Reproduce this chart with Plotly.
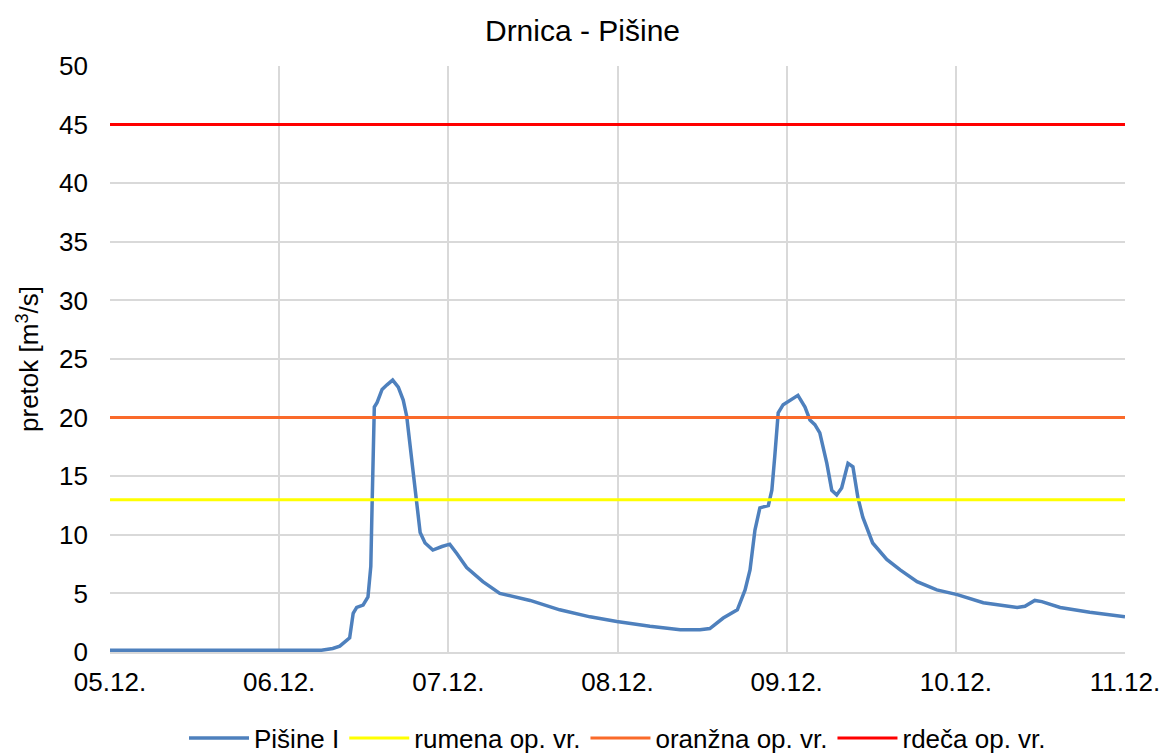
import pandas as pd
import plotly.graph_objects as go

# Hours since 05.12. 00:00 and discharge at station Pišine I [m3/s]
hours = [0, 30, 31.6, 32.6, 34.0, 34.5, 35.0, 35.9, 36.6, 37.0, 37.2, 37.3, 37.5, 37.9,
         38.6, 39.3, 40.1, 40.9, 41.6, 42.1, 42.8, 43.6, 44.0, 44.7, 45.8, 47.1, 48.2,
         49.2, 50.6, 52.9, 55.3, 59.6, 63.8, 68.1, 71.9, 76.6, 80.9, 83.7, 85.1, 87.0,
         89.0, 90.1, 90.8, 91.5, 92.2, 93.4, 93.9, 94.3, 94.8, 95.5, 96.5, 97.6, 98.6,
         99.3, 100.0, 100.7, 101.7, 102.4, 103.1, 103.8, 104.7, 105.4, 106.1, 106.8,
         108.2, 110.2, 112.1, 114.5, 117.3, 120.2, 123.9, 128.7, 129.8, 131.2, 132.2,
         134.8, 139.0, 144.0]
flow = [0.15, 0.15, 0.3, 0.5, 1.2, 3.3, 3.8, 4.0, 4.7, 7.3, 13.0, 15.8, 20.9, 21.3,
        22.4, 22.8, 23.2, 22.6, 21.5, 20.1, 16.4, 12.4, 10.2, 9.3, 8.7, 9.0, 9.2,
        8.4, 7.2, 6.0, 5.0, 4.4, 3.6, 3.0, 2.6, 2.2, 1.9, 1.9, 2.0, 2.9,
        3.6, 5.3, 7.0, 10.4, 12.3, 12.5, 13.8, 16.6, 20.4, 21.1, 21.5, 21.9, 20.9,
        19.8, 19.4, 18.7, 16.1, 13.8, 13.4, 14.0, 16.1, 15.8, 13.2, 11.5,
        9.3, 7.9, 7.0, 6.0, 5.3, 4.9, 4.2, 3.8, 3.9, 4.4, 4.3,
        3.8, 3.4, 3.0]

# Warning thresholds
threshold_names = ["rumena op. vr.", "oranžna op. vr.", "rdeča op. vr."]
threshold_values = [13, 20, 45]
threshold_colors = ["#FFFF00", "#FA6A2A", "#FF0000"]

start = pd.Timestamp("2023-12-05")
end = pd.Timestamp("2023-12-11")
times = [start + pd.Timedelta(hours=h) for h in hours]
tick_days = pd.date_range(start, end, freq="D")

fig = go.Figure()
fig.add_trace(go.Scatter(x=times, y=flow, mode="lines", name="Pišine I",
                         line=dict(color="#4E80BD", width=3.5)))
for name, val, col in zip(threshold_names, threshold_values, threshold_colors):
    fig.add_trace(go.Scatter(x=[start, end], y=[val, val], mode="lines", name=name,
                             line=dict(color=col, width=3)))

font = "Liberation Sans, Arial, sans-serif"
fig.update_layout(
    width=1165, height=753,
    paper_bgcolor="white", plot_bgcolor="white",
    margin=dict(l=110, r=40, t=66, b=101, autoexpand=False),
    title=dict(text="Drnica - Pišine", x=0.5, xanchor="center",
               y=1 - 30 / 753, yanchor="middle",
               font=dict(family=font, size=30, color="#000000")),
    font=dict(family=font, size=26, color="#000000"),
    showlegend=True,
    legend=dict(orientation="h", x=0.5, xanchor="center",
                yref="container", y=1 - 738 / 753, yanchor="middle",
                font=dict(family=font, size=26, color="#000000"),
                itemwidth=60, tracegroupgap=0),
)
fig.update_xaxes(
    range=[start, end], tickvals=tick_days, ticktext=[d.strftime("%d.%m.") for d in tick_days],
    showgrid=True, gridcolor="#D9D9D9", gridwidth=1.5,
    showline=True, linecolor="#D9D9D9", linewidth=1.5,
    ticks="", tickfont=dict(size=26), zeroline=False, ticklabelstandoff=6,
)
fig.update_yaxes(
    range=[0, 50], dtick=5, tick0=0,
    showgrid=True, gridcolor="#D9D9D9", gridwidth=1.5,
    showline=False, zeroline=False, ticks="",
    tickfont=dict(size=26), ticklabelstandoff=21,
    title=dict(text="pretok [m<sup>3</sup>/s]", font=dict(size=26), standoff=12),
)

fig.write_html("out.html")
